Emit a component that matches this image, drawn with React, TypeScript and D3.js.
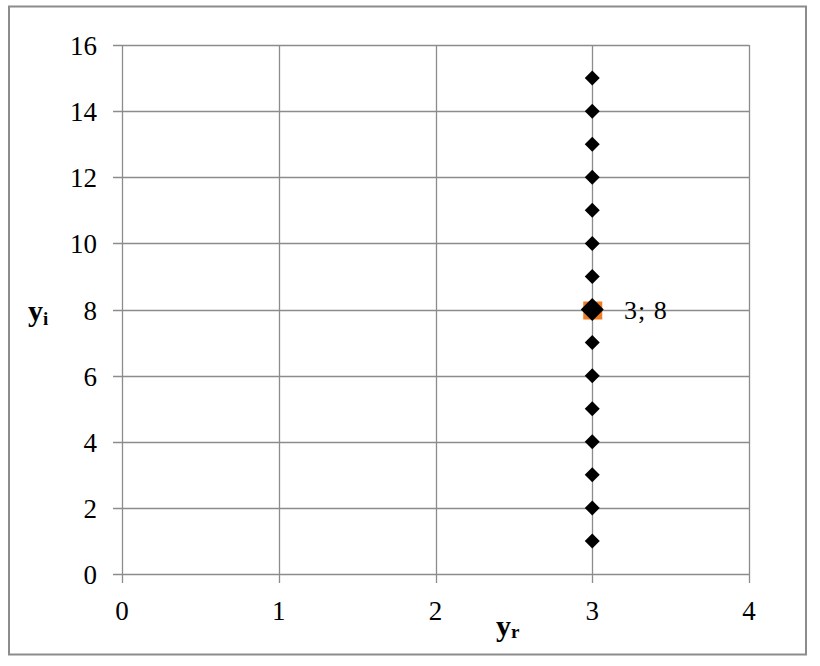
import React from "react";
import * as d3 from "d3";

const xTicks = [0, 1, 2, 3, 4];
const yTicks = [0, 2, 4, 6, 8, 10, 12, 14, 16];
const seriesX = [3, 3, 3, 3, 3, 3, 3, 3, 3, 3, 3, 3, 3, 3, 3];
const seriesY = [1, 2, 3, 4, 5, 6, 7, 8, 9, 10, 11, 12, 13, 14, 15];
const highlight = { x: 3, y: 8, label: "3; 8" };

export default function App() {
  const W = 820, H = 666;
  const x = d3.scaleLinear().domain([0, 4]).range([122, 749]);
  const y = d3.scaleLinear().domain([0, 16]).range([574, 45]);
  const grid = "#8c8c8c";
  const font = "'Liberation Serif', 'Times New Roman', serif";
  const diamond = (cx: number, cy: number, r: number) =>
    `M${cx},${cy - r}L${cx + r},${cy}L${cx},${cy + r}L${cx - r},${cy}Z`;
  return (
    <svg width={W} height={H} style={{ position: "absolute", left: 0, top: 0 }}>
      <rect x={0} y={0} width={W} height={H} fill="#fff" />
      <rect x={9} y={6.5} width={797} height={648} fill="none" stroke="#8c8c8c" strokeWidth={2} />
      {yTicks.map((t) => (
        <g key={"y" + t}>
          <line x1={113} x2={x(4)} y1={Math.round(y(t)) + 0.5} y2={Math.round(y(t)) + 0.5} stroke={grid} strokeWidth={1.3} />
          <text x={97} y={y(t) + 10} textAnchor="end" fontFamily={font} fontSize={27} fill="#000">{t}</text>
        </g>
      ))}
      {xTicks.map((t) => (
        <g key={"x" + t}>
          <line x1={Math.round(x(t)) + 0.5} x2={Math.round(x(t)) + 0.5} y1={y(16)} y2={583} stroke={grid} strokeWidth={1.3} />
          <text x={x(t)} y={620} textAnchor="middle" fontFamily={font} fontSize={27} fill="#000">{t}</text>
        </g>
      ))}
      <rect x={x(highlight.x) - 9} y={y(highlight.y) - 8} width={19} height={18} fill="#f07c24" />
      {seriesY.map((v, i) => (
        <path key={"p" + i} d={diamond(x(seriesX[i]), y(v), 7.5)} fill="#000" />
      ))}
      <path d={diamond(x(highlight.x), y(highlight.y), 11.5)} fill="#000" />
      <text x={624} y={319} fontFamily={font} fontSize={26} letterSpacing={1} fill="#000">{highlight.label}</text>
      <text x={28} y={321} fontFamily={font} fontSize={30} fontWeight="bold" fill="#000">
        y<tspan fontSize={19} dy={4}>i</tspan>
      </text>
      <text x={496} y={636} fontFamily={font} fontSize={30} fontWeight="bold" fill="#000">
        y<tspan fontSize={19} dy={2}>r</tspan>
      </text>
    </svg>
  );
}
